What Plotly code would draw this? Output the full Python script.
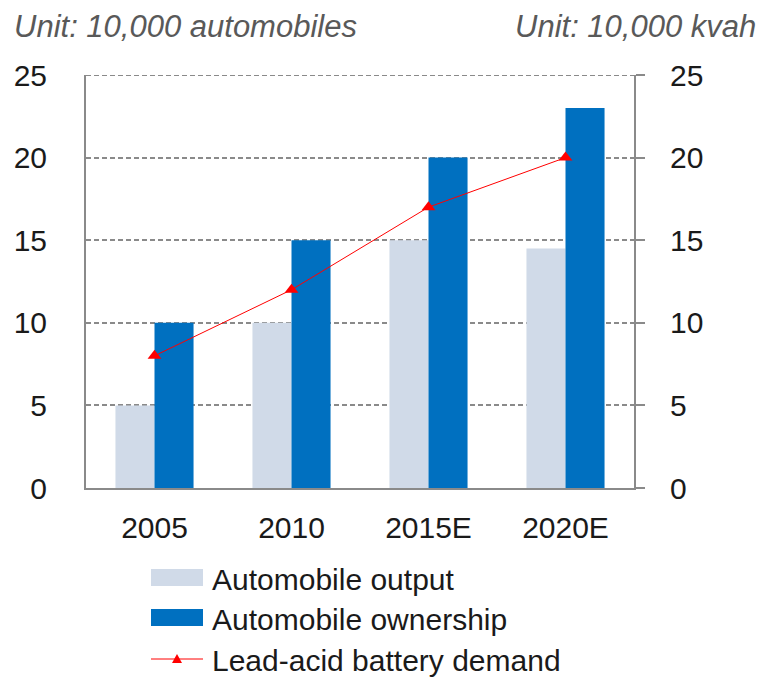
import plotly.graph_objects as go

years = ["2005", "2010", "2015E", "2020E"]
automobile_output = [5, 10, 15, 14.5]
automobile_ownership = [10, 15, 20, 23]
battery_demand = [8, 12, 17, 20]

series_names = ["Automobile output", "Automobile ownership", "Lead-acid battery demand"]

FONT = "Liberation Sans, Arial, sans-serif"
GRID = "#8a8a8a"
LIGHT = "#D0DAE8"
DARK = "#0070C0"
RED = "#FF0000"

# plot-area geometry in pixels, used to place the hand-built legend
W, H = 762, 678
L, R, T, B = 86, 128, 75, 190
PW, PH = W - L - R, H - T - B


def px_x(px):
    return (px - L) / PW


def px_y(py):
    return (H - B - py) / PH


fig = go.Figure()
fig.add_trace(go.Bar(
    x=years, y=automobile_output, name=series_names[0],
    marker=dict(color=LIGHT, line=dict(width=0)),
))
fig.add_trace(go.Bar(
    x=years, y=automobile_ownership, name=series_names[1],
    marker=dict(color=DARK, line=dict(width=0)),
))
fig.add_trace(go.Scatter(
    x=years, y=battery_demand, name=series_names[2],
    yaxis="y2", mode="lines+markers",
    line=dict(color=RED, width=1),
    marker=dict(symbol="triangle-up", size=12, color=RED),
))

tick_font = dict(family=FONT, size=30, color="#1a1a1a")
GRID_DASH = "5px,3px"

fig.update_layout(
    width=W, height=H,
    margin=dict(l=L, r=R, t=T, b=B, autoexpand=False),
    paper_bgcolor="white", plot_bgcolor="white",
    barmode="group", bargap=0.43, bargroupgap=0,
    showlegend=False,
    font=dict(family=FONT, size=30, color="#1a1a1a"),
    xaxis=dict(
        type="category", showline=True, linecolor=GRID, linewidth=2,
        ticks="", tickfont=tick_font, showgrid=False,
        ticklabelstandoff=12,
    ),
    yaxis=dict(
        range=[0, 25], dtick=5, showline=True, linecolor=GRID, linewidth=2,
        showgrid=True, gridcolor=GRID, griddash=GRID_DASH, gridwidth=2,
        zeroline=False, ticks="", tickfont=tick_font,
        ticklabelstandoff=31,
    ),
    yaxis2=dict(
        range=[0, 25], dtick=5, overlaying="y", side="right",
        showline=True, linecolor=GRID, linewidth=2, showgrid=False,
        zeroline=False, ticks="outside", ticklen=9, tickcolor=GRID,
        tickwidth=2, tickfont=tick_font, ticklabelstandoff=19,
    ),
)

# dashed gridline at the top of the value range
fig.add_shape(
    type="line", xref="paper", yref="y", x0=0, x1=1, y0=25, y1=25,
    line=dict(color=GRID, width=2, dash=GRID_DASH), layer="below",
)

# unit captions above each value axis
unit_font = dict(family=FONT, size=31, color="#595959")
fig.add_annotation(
    text="<i>Unit: 10,000 automobiles</i>", xref="paper", yref="paper",
    x=0, xanchor="left", xshift=-74, y=1, yshift=49, yanchor="middle",
    showarrow=False, font=unit_font,
)
fig.add_annotation(
    text="<i>Unit: 10,000 kvah</i>", xref="paper", yref="paper",
    x=1, xanchor="right", xshift=124, y=1, yshift=49, yanchor="middle",
    showarrow=False, font=unit_font,
)

# legend drawn below the chart: wide swatches for bars, line with marker
legend_rows = [578, 618, 659]
sw_x0, sw_x1, text_x = 151, 203, 210
for name, row, kind in zip(series_names, legend_rows, ["light", "dark", "line"]):
    if kind == "line":
        fig.add_shape(
            type="line", xref="paper", yref="paper",
            x0=px_x(sw_x0), x1=px_x(sw_x1), y0=px_y(row), y1=px_y(row),
            line=dict(color=RED, width=1),
        )
        fig.add_shape(
            type="path", xref="paper", yref="paper",
            path="M {a},{b} L {c},{b} L {d},{e} Z".format(
                a=px_x(172), c=px_x(182), d=px_x(177),
                b=px_y(row + 4), e=px_y(row - 5)),
            fillcolor=RED, line=dict(width=0),
        )
    else:
        fig.add_shape(
            type="rect", xref="paper", yref="paper",
            x0=px_x(sw_x0), x1=px_x(sw_x1),
            y0=px_y(row + 8), y1=px_y(row - 9),
            fillcolor=LIGHT if kind == "light" else DARK, line=dict(width=0),
        )
    fig.add_annotation(
        text=name, xref="paper", yref="paper",
        x=px_x(text_x), xanchor="left", y=px_y(row + 1), yanchor="middle",
        showarrow=False, font=dict(family=FONT, size=30, color="#1a1a1a"),
    )

fig.write_html("out.html")
